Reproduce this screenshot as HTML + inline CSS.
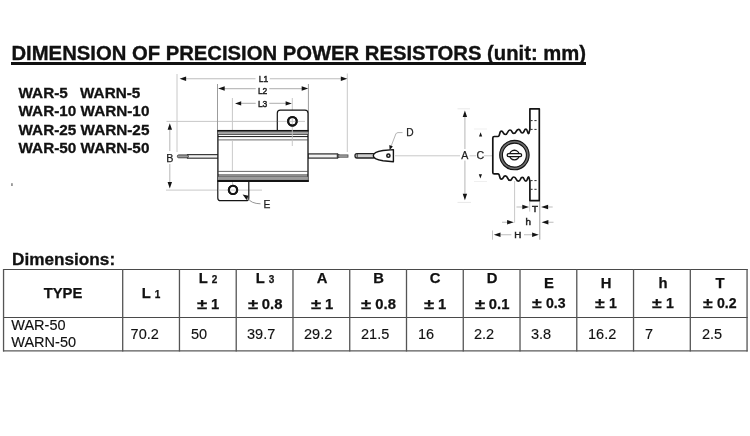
<!DOCTYPE html>
<html>
<head>
<meta charset="utf-8">
<title>Dimension of Precision Power Resistors</title>
<style>
html,body{margin:0;padding:0;background:#fff;}
body{width:750px;height:436px;position:relative;overflow:hidden;font-family:"Liberation Sans",sans-serif;color:#111;}
.abs{position:absolute;white-space:nowrap;}
#title{left:11.5px;top:41.2px;font-size:20.25px;font-weight:bold;line-height:24px;letter-spacing:0;-webkit-text-stroke:0.35px #111;}
#title-ul{left:11.2px;top:62.4px;width:574.7px;height:2.6px;background:#111;}
.models{left:18.5px;font-size:15.3px;font-weight:bold;line-height:18px;color:#111;-webkit-text-stroke:0.3px #111;}
#dimh{-webkit-text-stroke:0.3px #111;left:12px;top:250.8px;font-size:16.7px;transform:scaleX(1.03);transform-origin:0 0;font-weight:bold;line-height:18px;}
/* table */
.th{-webkit-text-stroke:0.25px #111;position:absolute;font-weight:bold;font-size:14.8px;line-height:16px;color:#111;text-align:center;white-space:nowrap;}
.th small{font-size:10px;}
.pm{display:inline-block;transform:scaleX(1.25);transform-origin:50% 50%;margin:0 1px;}
.td{-webkit-text-stroke:0.15px #111;position:absolute;font-size:14.5px;line-height:16px;white-space:nowrap;color:#111;}
svg{position:absolute;left:0;top:0;filter:blur(0.33px);}
.abs,.th,.td{filter:blur(0.3px);}
</style>
</head>
<body>
<div class="abs" id="title">DIMENSION OF PRECISION POWER RESISTORS (unit: mm)</div>
<div class="abs" id="title-ul"></div>

<div class="abs models" style="top:84px;">WAR-5</div>
<div class="abs models" style="top:84px;left:80px;">WARN-5</div>
<div class="abs models" style="top:102.2px;">WAR-10 WARN-10</div>
<div class="abs models" style="top:121px;">WAR-25 WARN-25</div>
<div class="abs models" style="top:138.9px;">WAR-50 WARN-50</div>

<div class="abs" id="dimh">Dimensions:</div>

<!-- table lines -->
<svg id="tbl" width="750" height="436" viewBox="0 0 750 436" style="filter:none">
<g stroke="#4a4a4a" stroke-width="1.15" fill="none">
<path d="M3,269.45 H747.7 M3,317.5 H747.7"/>
<path d="M3,350.8 H747.7" stroke="#5a5a5a" stroke-width="1.3"/>
<path d="M3.55,269 V351.4 M122.70,269 V351.4 M179.46,269 V351.4 M236.22,269 V351.4 M292.98,269 V351.4 M349.74,269 V351.4 M406.50,269 V351.4 M463.26,269 V351.4 M520.02,269 V351.4 M576.78,269 V351.4 M633.54,269 V351.4 M690.30,269 V351.4 M747.06,269 V351.4" stroke="#555" stroke-width="1.3"/>
</g>
</svg>

<!-- header cells -->
<div class="th" style="left:4px;width:118px;top:285px;">TYPE</div>
<div class="th" style="left:123px;width:56px;top:285px;">L <small>1</small></div>
<div class="th" style="left:180px;width:56px;top:270.3px;">L <small>2</small></div>
<div class="th" style="left:180px;width:56px;top:295.7px;"><span class="pm">±</span> 1</div>
<div class="th" style="left:237px;width:56px;top:270.3px;">L <small>3</small></div>
<div class="th" style="left:237px;width:56px;top:295.7px;"><span class="pm">±</span> 0.8</div>
<div class="th" style="left:294px;width:56px;top:270.3px;">A</div>
<div class="th" style="left:294px;width:56px;top:295.7px;"><span class="pm">±</span> 1</div>
<div class="th" style="left:351px;width:55px;top:270.3px;">B</div>
<div class="th" style="left:351px;width:55px;top:295.7px;"><span class="pm">±</span> 0.8</div>
<div class="th" style="left:407px;width:56px;top:270.3px;">C</div>
<div class="th" style="left:407px;width:56px;top:295.7px;"><span class="pm">±</span> 1</div>
<div class="th" style="left:464px;width:56px;top:270.3px;">D</div>
<div class="th" style="left:464px;width:56px;top:295.7px;"><span class="pm">±</span> 0.1</div>
<div class="th" style="left:521px;width:56px;top:275.2px;">E</div>
<div class="th" style="left:521px;width:56px;top:295px;font-size:14.1px;"><span class="pm">±</span> 0.3</div>
<div class="th" style="left:578px;width:56px;top:275.2px;">H</div>
<div class="th" style="left:578px;width:56px;top:295px;font-size:14.1px;"><span class="pm">±</span> 1</div>
<div class="th" style="left:635px;width:56px;top:275.2px;">h</div>
<div class="th" style="left:635px;width:56px;top:295px;font-size:14.1px;"><span class="pm">±</span> 1</div>
<div class="th" style="left:692px;width:56px;top:275.2px;">T</div>
<div class="th" style="left:692px;width:56px;top:295px;font-size:14.1px;"><span class="pm">±</span> 0.2</div>

<!-- data cells -->
<div class="td" style="left:11.3px;top:317.4px;">WAR-50</div>
<div class="td" style="left:11.3px;top:334px;">WARN-50</div>
<div class="td" style="left:130.6px;top:325.8px;">70.2</div>
<div class="td" style="left:191px;top:325.8px;">50</div>
<div class="td" style="left:247px;top:325.8px;">39.7</div>
<div class="td" style="left:304px;top:325.8px;">29.2</div>
<div class="td" style="left:361px;top:325.8px;">21.5</div>
<div class="td" style="left:418px;top:325.8px;">16</div>
<div class="td" style="left:474px;top:325.8px;">2.2</div>
<div class="td" style="left:531px;top:325.8px;">3.8</div>
<div class="td" style="left:588px;top:325.8px;">16.2</div>
<div class="td" style="left:645px;top:325.8px;">7</div>
<div class="td" style="left:702px;top:325.8px;">2.5</div>

<svg width="750" height="436" viewBox="0 0 750 436">
<g id="diagram">
<g stroke="#c8c8c8" stroke-width="1" fill="none">
<path d="M177,74 V152"/>
<path d="M347.3,73.5 V152"/>
<path d="M232.4,98 V186"/>
<path d="M292.3,98 V116"/>
<path d="M166.5,121.4 H305"/>
<path d="M166,190.1 H262"/>
<path d="M395,155.8 H460 M469.5,155.8 H476 M484,155.8 H492"/>
<path d="M457.5,108.8 H470 M457.5,202.4 H471" stroke="#e8e8e8"/>
<path d="M474,129 H487 M474,181.5 H487" stroke="#efefef"/>
<path d="M514.6,181 V222.7"/>
<path d="M492.5,230.5 V239.7"/>
<path d="M539.8,201 V239.7" stroke="#a0a0a0"/>
<path d="M529.7,201 V211.6"/>
</g>
<g stroke="#9c9c9c" stroke-width="1" fill="none">
<path d="M217.5,84 V130"/>
<path d="M308.4,84 V130"/>
</g>
<g stroke="#bdbdbd" stroke-width="1.1" fill="none">
<path d="M184,78.7 H255.5 M269.8,78.7 H341"/>
<path d="M223,88.6 H255.7 M269.3,88.6 H302"/>
<path d="M241,103.4 H255.7 M269.3,103.4 H286"/>
<path d="M169.8,129 V151 M169.8,164 V182.5"/>
<path d="M464.9,116 V149 M464.9,160.5 V194"/>
<path d="M516.5,207 H523 M548,207 H552.7"/>
<path d="M502,222.2 H508 M548,222.2 H553.5"/>
<path d="M500.5,234.8 H511.4 M524,234.8 H532.5"/>
</g>
<path d="M179.6,78.8 l6.5,-2.2 v4.4 z" fill="#141414" stroke="none"/>
<path d="M347.3,78.8 l-6.5,-2.2 v4.4 z" fill="#141414" stroke="none"/>
<path d="M218.2,88.5 l6.5,-2.2 v4.4 z" fill="#141414" stroke="none"/>
<path d="M308.2,88.5 l-6.5,-2.2 v4.4 z" fill="#141414" stroke="none"/>
<path d="M235.0,103.4 l6.2,-2.2 v4.4 z" fill="#141414" stroke="none"/>
<path d="M291.8,103.4 l-6.2,-2.2 v4.4 z" fill="#141414" stroke="none"/>
<path d="M169.8,123.3 l-2.2,6.5 h4.4 z" fill="#141414" stroke="none"/>
<path d="M169.8,188.6 l-2.2,-6.5 h4.4 z" fill="#141414" stroke="none"/>
<path d="M464.9,110.6 l-2.2,6.5 h4.4 z" fill="#141414" stroke="none"/>
<path d="M464.9,200.2 l-2.2,-6.5 h4.4 z" fill="#141414" stroke="none"/>
<path d="M480.6,132.2 l-1.6,4.4 h3.2 z" fill="#141414" stroke="none"/>
<path d="M480.4,178.6 l-1.6,-4.4 h3.2 z" fill="#141414" stroke="none"/>
<path d="M529.0,207.0 l-6.7,-2.2 v4.4 z" fill="#141414" stroke="none"/>
<path d="M541.1,207.0 l7.0,-2.2 v4.4 z" fill="#141414" stroke="none"/>
<path d="M513.8,222.2 l-6.7,-2.2 v4.4 z" fill="#141414" stroke="none"/>
<path d="M541.6,222.2 l6.8,-2.2 v4.4 z" fill="#141414" stroke="none"/>
<path d="M493.8,234.8 l6.7,-2.2 v4.4 z" fill="#141414" stroke="none"/>
<path d="M538.8,234.8 l-6.7,-2.2 v4.4 z" fill="#141414" stroke="none"/>
<g font-family="Liberation Sans, sans-serif" font-size="10" fill="#1e1e1e" stroke="#1e1e1e" stroke-width="0.25">
<text transform="translate(263.5,81.6) scale(0.85,0.97)" text-anchor="middle" stroke-width="0.5">L1</text>
<text transform="translate(262.6,94.3) scale(0.85,0.97)" text-anchor="middle" stroke-width="0.5">L2</text>
<text transform="translate(262.6,107.3) scale(0.85,0.97)" text-anchor="middle" stroke-width="0.5">L3</text>
<text x="166.3" y="161.5" font-size="10.8">B</text>
<text x="263.4" y="207.7" font-size="10.3">E</text>
<text x="406.3" y="136" font-size="10.2">D</text>
<text x="461.2" y="158.5" font-size="10.6">A</text>
<text x="476.4" y="158.5" font-size="10.6">C</text>
<text x="532.1" y="211.6" font-size="9.8" stroke-width="0.5">T</text>
<text x="525.4" y="224.6" font-size="9.8" stroke-width="0.5">h</text>
<text x="514.3" y="237.7" font-size="9.8" stroke-width="0.5">H</text>
</g>
<g stroke="#141414" fill="none">
<rect x="187.5" y="154.6" width="31" height="3.6" fill="#f2f2f2" stroke="#3a3a3a" stroke-width="1.2"/>
<rect x="177.4" y="154.9" width="11" height="2.9" rx="1.3" fill="#9a9a9a" stroke="#3a3a3a" stroke-width="0.9"/>
<rect x="308" y="153.9" width="29.4" height="4.2" fill="#f2f2f2" stroke="#3a3a3a" stroke-width="1.3"/>
<path d="M337.4,153.9 L339.4,155 M337.4,158.1 L339.4,157" stroke="#3a3a3a" stroke-width="1.1"/>
<rect x="338.6" y="154.9" width="9.4" height="2.3" fill="#a5a5a5" stroke="#4a4a4a" stroke-width="0.8"/>
<path d="M277.3,130.3 V113.2 Q277.3,110.2 280.3,110.2 H305 Q308,110.2 308,113.2 V130.3" fill="#fff" stroke-width="1.2"/>
<circle cx="292.4" cy="121.3" r="4.3" fill="#fff" stroke-width="2.1"/>
<path d="M217.8,181.5 V197.9 Q217.8,200.7 220.6,200.7 H246 Q248.8,200.7 248.8,197.9 V181.5" fill="#fff" stroke-width="1.2"/>
<circle cx="233" cy="189.9" r="4.15" fill="#fff" stroke-width="2.1"/>
<rect x="217.9" y="130.6" width="90.1" height="50.6" fill="#fff" stroke-width="1.3"/>
<rect x="218.4" y="131.2" width="89.1" height="3.3" fill="#8c8c8c" stroke="none"/>
<path d="M218,132.3 H308 M218,133.5 H308" stroke="#bdbdbd" stroke-width="0.5"/>
<path d="M218,134.5 H308" stroke-width="0.7" stroke="#2a2a2a"/>
<path d="M218,136.6 H308" stroke-width="1.0"/>
<path d="M218,139.9 H308" stroke-width="0.8" stroke="#444"/>
<path d="M218,171.4 H308" stroke-width="0.8" stroke="#444"/>
<path d="M218,175.0 H308" stroke-width="0.95"/>
<rect x="218.4" y="176.5" width="89.1" height="3.6" fill="#8c8c8c" stroke="none"/>
<path d="M218,176.6 H308" stroke-width="0.6" stroke="#333"/>
<path d="M218,177.7 H308 M218,178.9 H308" stroke="#bdbdbd" stroke-width="0.5"/>
<path d="M217.3,180.9 H308.7" stroke-width="2.0"/>
<path d="M217.3,130.8 H308.7" stroke-width="1.3"/>
</g>
<g stroke="#c4c4c4" stroke-width="0.9" fill="none"><path d="M232.4,141 V171 M292.3,116 V146 M232.5,182 V187 M218.5,190.1 H248 M277.8,121.4 H305"/></g>
<circle cx="292.4" cy="121.3" r="4.3" fill="none" stroke="#141414" stroke-width="2.1"/>
<circle cx="233" cy="189.9" r="4.15" fill="none" stroke="#141414" stroke-width="2.1"/>
<path d="M247.5,198 Q251,203.6 260.5,203.8" stroke="#8a8a8a" stroke-width="0.9" fill="none"/>
<path d="M242.6,194.6 L248.6,195.7 L246.6,200.1 z" fill="#141414"/>
<g stroke="#141414" fill="none">
<rect x="355" y="153.6" width="20" height="4.4" rx="1.9" fill="#cfcfcf" stroke="#222" stroke-width="1.3"/>
<path d="M357.2,154 V157.6" stroke="#2a2a2a" stroke-width="0.9"/>
<path d="M393.4,149.6 V161.8 L383,160.7 Q373.3,159.3 373.3,155.8 Q373.3,152 383,150.5 Z" fill="#fff" stroke-width="1.4" stroke-linejoin="round"/>
<circle cx="388.4" cy="155.7" r="1.6" fill="#ddd" stroke-width="1.5"/>
</g>
<path d="M391,146.5 L395.8,134 Q396.3,132.7 398,132.6 H402.5" stroke="#ababab" stroke-width="0.9" fill="none"/>
<path d="M389.6,150 l-0.3,-5 l3.6,1.4 z" fill="#141414"/>
<g stroke="#141414" fill="none">
<path d="M529.90,129.80 C529.16,129.80 529.44,133.60 528.70,133.60 C527.03,133.60 527.67,129.20 526.00,129.20 C523.71,129.20 524.59,133.00 522.30,133.00 C520.01,133.00 520.89,129.30 518.60,129.30 C515.62,129.30 516.78,133.40 513.80,133.40 C511.44,133.40 512.36,130.00 510.00,130.00 C507.09,130.00 508.21,134.50 505.30,134.50 C502.82,134.50 503.78,131.20 501.30,131.20 C499.25,131.20 500.05,136.50 498.00,136.50 L494.3,136.5 Q492.8,136.5 492.8,138 L492.8,172.40 Q492.8,173.90 494.3,173.90 L498.0,173.90 C500.05,173.90 499.25,179.20 501.30,179.20 C503.78,179.20 502.82,175.90 505.30,175.90 C508.21,175.90 507.09,180.40 510.00,180.40 C512.36,180.40 511.44,177.00 513.80,177.00 C516.78,177.00 515.62,181.10 518.60,181.10 C520.89,181.10 520.01,177.40 522.30,177.40 C524.59,177.40 523.71,181.20 526.00,181.20 C527.67,181.20 527.03,176.80 528.70,176.80 C529.44,176.80 529.16,180.60 529.90,180.60 L529.9,200.6 L539.3,200.6 L539.3,108.8 L529.9,108.8 Z" fill="#fff" stroke-width="1.7" stroke-linejoin="round"/>
<path d="M530.6,120.6 h2 M534.4,120.6 h2.2 M530.6,129.4 h2 M534.4,129.4 h2.2 M530.6,180.6 h2 M534.4,180.6 h2.2 M530.6,189.3 h2 M534.4,189.3 h2.2" stroke-width="0.9"/>
<circle cx="514.4" cy="155.1" r="13.4" stroke="#6e6e6e" stroke-width="3.0"/>
<circle cx="514.4" cy="155.1" r="14.7" stroke-width="1.1"/>
<circle cx="514.4" cy="155.1" r="12.0" stroke-width="1.1"/>
<circle cx="514.4" cy="155.1" r="4.8" stroke-width="1.4" fill="#fff"/>
<rect x="507.2" y="153.7" width="14.4" height="2.9" rx="1.4" fill="#fff" stroke-width="1.3"/>
</g>
<rect x="11.2" y="183.2" width="1.5" height="2.8" fill="#808080"/>
</g>
</svg>
</body>
</html>
